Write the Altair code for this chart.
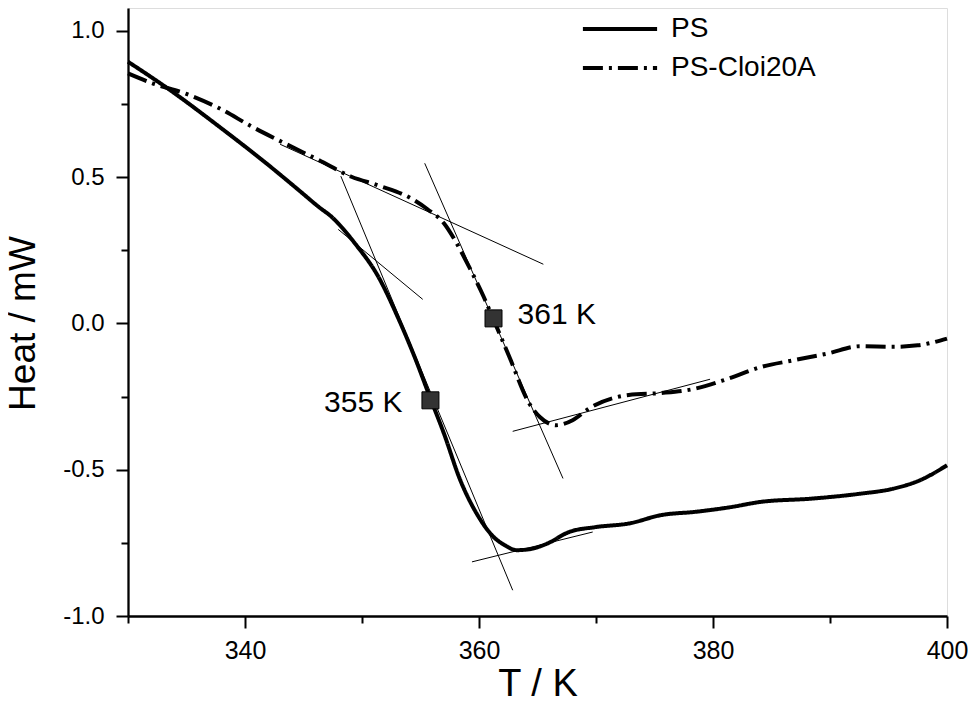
import altair as alt
import pandas as pd

# PS (solid)
ps_T = [330.0, 333.6, 337.8, 342.0, 344.6, 346.3, 347.4, 349.4, 351.4, 353.05,
        354.5, 355.85, 357.0, 358.4, 359.8, 361.25, 362.2, 363.2, 364.3, 365.8,
        367.7, 370.0, 372.8, 375.6, 378.5, 381.5, 384.1, 388.4, 392.6, 395.4,
        397.7, 400.0]
ps_H = [0.894, 0.797, 0.672, 0.541, 0.455, 0.398, 0.364, 0.273, 0.159, 0.022,
        -0.115, -0.257, -0.376, -0.536, -0.650, -0.730, -0.758, -0.775, -0.772, -0.753,
        -0.713, -0.696, -0.684, -0.655, -0.644, -0.628, -0.610, -0.599, -0.582, -0.565,
        -0.536, -0.485]

# PS-Cloi20A (dash-dot)
cl_T = [330.0, 332.1, 335.0, 337.8, 340.6, 343.4, 346.3, 349.1, 351.5, 354.2,
        355.6, 357.0, 358.0, 359.0, 360.4, 361.2, 362.6, 364.3, 365.2, 366.6,
        368.0, 369.4, 372.8, 375.6, 378.5, 381.3, 384.1, 386.9, 389.8, 392.6,
        395.4, 397.5, 400.0]
cl_H = [0.854, 0.820, 0.784, 0.735, 0.672, 0.615, 0.558, 0.501, 0.470, 0.427,
        0.390, 0.342, 0.280, 0.205, 0.091, 0.017, -0.115, -0.274, -0.320, -0.348,
        -0.331, -0.291, -0.245, -0.238, -0.223, -0.189, -0.149, -0.126, -0.103, -0.078,
        -0.080, -0.075, -0.052]

# thin tangent construction lines
tan_T1 = [343.0, 355.36, 362.88, 348.19, 347.97, 359.4]
tan_H1 = [0.612, 0.547, -0.369, 0.503, 0.321, -0.815]
tan_T2 = [365.5, 367.18, 379.75, 362.88, 355.19, 369.72]
tan_H2 = [0.202, -0.530, -0.191, -0.912, 0.082, -0.713]

# glass transition points
ann_T = [355.85, 361.24]
ann_H = [-0.263, 0.017]
ann_label = ["355 K", "361 K"]
ann_side = ["left", "right"]

series_names = ["PS", "PS-Cloi20A"]

FONT = "Liberation Sans"

series_df = pd.DataFrame({
    "T": ps_T + cl_T,
    "H": ps_H + cl_H,
    "series": [series_names[0]] * len(ps_T) + [series_names[1]] * len(cl_T),
})
tan_df = pd.DataFrame({"T": tan_T1, "H": tan_H1, "T2": tan_T2, "H2": tan_H2})
ann_df = pd.DataFrame({"T": ann_T, "H": ann_H, "label": ann_label, "side": ann_side})

xscale = alt.Scale(domain=[330, 400], nice=False, zero=False)
yscale = alt.Scale(domain=[-1.0, 1.0776], nice=False, zero=False)

xaxis = alt.Axis(
    values=[330, 340, 350, 360, 370, 380, 390, 400],
    labelExpr="(datum.value % 20 == 0 && datum.value > 330) ? datum.label : ''",
    tickSize={"condition": {"test": "datum.value % 20 == 0", "value": 12}, "value": 7},
    grid=False, labelFlush=False, labelOverlap=False,
    domainColor="black", domainWidth=2.3, tickColor="black", tickWidth=2,
    labelColor="black", labelFont=FONT, labelFontSize=25, labelPadding=10,
    titleFont=FONT, titleFontSize=38, titleFontWeight="normal", titleColor="black",
    titleY=68, titleBaseline="middle",
)
yaxis = alt.Axis(
    values=[-1.0, -0.75, -0.5, -0.25, 0.0, 0.25, 0.5, 0.75, 1.0],
    labelExpr="abs(datum.value*2 - round(datum.value*2)) < 0.001 ? ((datum.value < 0 ? '-' : '') + format(abs(datum.value), '.1f')) : ''",
    tickSize={"condition": {"test": "abs(datum.value*2 - round(datum.value*2)) < 0.001", "value": 12}, "value": 7},
    grid=False, labelFlush=False, labelOverlap=False,
    domainColor="black", domainWidth=2.3, tickColor="black", tickWidth=2,
    labelColor="black", labelFont=FONT, labelFontSize=24, labelPadding=12,
    titleFont=FONT, titleFontSize=37, titleFontWeight="normal", titleColor="black",
    titleAngle=270, titleX=-105, titleY=315, titleAlign="center", titleBaseline="middle",
)

x = alt.X("T:Q", scale=xscale, axis=xaxis, title="T / K")
y = alt.Y("H:Q", scale=yscale, axis=yaxis, title="Heat / mW")

tangents = alt.Chart(tan_df).mark_rule(color="black", strokeWidth=1).encode(
    x=x, y=y, x2="T2:Q", y2="H2:Q",
)

lines = alt.Chart(series_df).mark_line(color="black", strokeWidth=4, interpolate="monotone").encode(
    x=x, y=y,
    strokeDash=alt.StrokeDash(
        "series:N",
        scale=alt.Scale(domain=series_names, range=[[1, 0], [20, 6, 3, 6]]),
        legend=alt.Legend(
            title=None, orient="none", legendX=478, legendY=7, padding=0,
            symbolType="M-5.3,0H5.3", symbolSize=196, symbolStrokeWidth=4,
            symbolStrokeColor="black", symbolFillColor="transparent",
            labelFont=FONT, labelFontSize=28, labelColor="black",
            labelOffset=37, rowPadding=11,
        ),
    ),
)

markers = alt.Chart(ann_df).mark_square(size=289, fill="#333333", stroke="black", strokeWidth=1, opacity=1).encode(
    x=x, y=y,
)

text_left = alt.Chart(ann_df).transform_filter("datum.side == 'left'").mark_text(
    align="right", baseline="middle", dx=-28, dy=3, font=FONT, fontSize=30, color="black"
).encode(x=x, y=y, text="label:N")

text_right = alt.Chart(ann_df).transform_filter("datum.side == 'right'").mark_text(
    align="left", baseline="middle", dx=24, dy=-3, font=FONT, fontSize=30, color="black"
).encode(x=x, y=y, text="label:N")

chart = alt.layer(tangents, lines, markers, text_left, text_right).properties(
    width=819, height=608,
    autosize=alt.AutoSizeParams(type="none"),
    padding={"left": 120, "top": 0, "right": 21, "bottom": 90},
).configure_view(stroke=None).configure(background="white")

chart.save("out.html", embed_options={"renderer": "svg", "actions": False})
